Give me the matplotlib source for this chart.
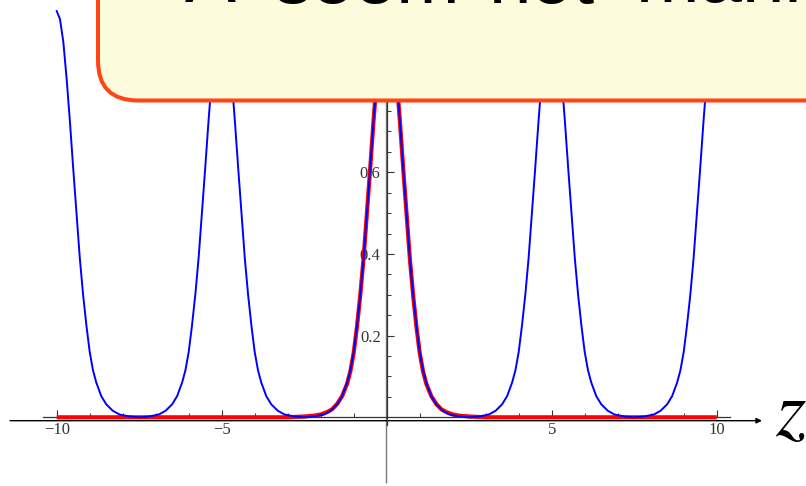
import matplotlib
matplotlib.use("Agg")
import matplotlib.pyplot as plt
from matplotlib.patches import FancyBboxPatch
from matplotlib.transforms import IdentityTransform
from matplotlib.ticker import FixedLocator, FixedFormatter

# ---------------- data ----------------
# blue curve: periodic density, peaks at -10, -5, 0, 5, 10
blue_z = [
    -10.0, -9.9, -9.8, -9.7, -9.6, -9.5, -9.4, -9.3, -9.2, -9.1, -9.0, -8.9, -8.8, -8.65, -8.5, -8.3, -8.1, -7.8, -7.5,
    -7.2, -6.9, -6.7, -6.5, -6.35, -6.2, -6.1, -6.0, -5.9, -5.8, -5.7, -5.6, -5.5, -5.4, -5.3, -5.2, -5.1, -5.0,
    -4.9, -4.8, -4.7, -4.6, -4.5, -4.4, -4.3, -4.2, -4.1, -4.0, -3.9, -3.8, -3.65, -3.5, -3.3, -3.1, -2.8, -2.5,
    -2.2, -1.9, -1.7, -1.5, -1.35, -1.2, -1.1, -1.0, -0.9, -0.8, -0.7, -0.6, -0.5, -0.4, -0.3, -0.2, -0.1, 0.0,
    0.1, 0.2, 0.3, 0.4, 0.5, 0.6, 0.7, 0.8, 0.9, 1.0, 1.1, 1.2, 1.35, 1.5, 1.7, 1.9, 2.2, 2.5,
    2.8, 3.1, 3.3, 3.5, 3.65, 3.8, 3.9, 4.0, 4.1, 4.2, 4.3, 4.4, 4.5, 4.6, 4.7, 4.8, 4.9, 5.0,
    5.1, 5.2, 5.3, 5.4, 5.5, 5.6, 5.7, 5.8, 5.9, 6.0, 6.1, 6.2, 6.35, 6.5, 6.7, 6.9, 7.2, 7.5,
    7.8, 8.1, 8.3, 8.5, 8.65, 8.8, 8.9, 9.0, 9.1, 9.2, 9.3, 9.4, 9.5, 9.6, 9.7, 9.8, 9.9, 10.0,
]
blue_p = [
    0.995, 0.975, 0.92, 0.83, 0.725, 0.61, 0.50, 0.39, 0.30, 0.225, 0.16, 0.115, 0.085, 0.052, 0.032, 0.016, 0.007, 0.002, 0.0,
    0.002, 0.007, 0.016, 0.032, 0.052, 0.085, 0.115, 0.16, 0.225, 0.30, 0.39, 0.50, 0.61, 0.725, 0.83, 0.92, 0.975, 1.0,
    0.975, 0.92, 0.83, 0.725, 0.61, 0.50, 0.39, 0.30, 0.225, 0.16, 0.115, 0.085, 0.052, 0.032, 0.016, 0.007, 0.002, 0.0,
    0.002, 0.007, 0.016, 0.032, 0.052, 0.085, 0.115, 0.16, 0.225, 0.30, 0.39, 0.50, 0.61, 0.725, 0.83, 0.92, 0.975, 1.0,
    0.975, 0.92, 0.83, 0.725, 0.61, 0.50, 0.39, 0.30, 0.225, 0.16, 0.115, 0.085, 0.052, 0.032, 0.016, 0.007, 0.002, 0.0,
    0.002, 0.007, 0.016, 0.032, 0.052, 0.085, 0.115, 0.16, 0.225, 0.30, 0.39, 0.50, 0.61, 0.725, 0.83, 0.92, 0.975, 1.0,
    0.975, 0.92, 0.83, 0.725, 0.61, 0.50, 0.39, 0.30, 0.225, 0.16, 0.115, 0.085, 0.052, 0.032, 0.016, 0.007, 0.002, 0.0,
    0.002, 0.007, 0.016, 0.032, 0.052, 0.085, 0.115, 0.16, 0.225, 0.30, 0.39, 0.50, 0.61, 0.725, 0.83, 0.92, 0.975, 1.0,
]

# red curve: single localized peak at 0
red_z = [-10.0, -3.0, -2.5, -2.2, -2.0, -1.8, -1.65, -1.5, -1.35, -1.2, -1.1, -1.0, -0.9, -0.8, -0.7, -0.6,
         -0.5, -0.4, -0.3, -0.2, -0.1, 0.0, 0.1, 0.2, 0.3, 0.4, 0.5, 0.6, 0.7, 0.8, 0.9, 1.0, 1.1, 1.2,
         1.35, 1.5, 1.65, 1.8, 2.0, 2.2, 2.5, 3.0, 10.0]
red_p = [0.0, 0.0, 0.002, 0.004, 0.007, 0.013, 0.02, 0.033, 0.052, 0.082, 0.113, 0.158, 0.222, 0.30, 0.39, 0.50,
         0.61, 0.725, 0.83, 0.92, 0.975, 1.0, 0.975, 0.92, 0.83, 0.725, 0.61, 0.50, 0.39, 0.30, 0.222, 0.158, 0.113, 0.082,
         0.052, 0.033, 0.02, 0.013, 0.007, 0.004, 0.002, 0.0, 0.0]

x_major = [-10, -5, 5, 10]
x_major_labels = ["\u221210", "\u22125", "5", "10"]
x_minor = [-9, -8, -7, -6, -4, -3, -2, -1, 1, 2, 3, 4, 6, 7, 8, 9]
y_major = [0.2, 0.4, 0.6, 0.8, 1.0]
y_major_labels = ["0.2", "0.4", "0.6", "", ""]   # 0.8 and 1.0 lie under the callout box
y_minor = [0.05, 0.1, 0.15, 0.25, 0.3, 0.35, 0.45, 0.5, 0.55, 0.65, 0.7, 0.75, 0.85, 0.9, 0.95]

# words of the (mostly cut-off) callout line, with their left pixel positions
box_words = ["A", "seem", "not", "manifestly normalizable"]
box_word_px = [185, 274, 489, 636]
axis_label = "z"

# ---------------- figure ----------------
W, H = 806, 486
fig = plt.figure(figsize=(W / 100, H / 100), dpi=100)
ax = fig.add_axes([0, 0, 1, 1])
ax.set_facecolor("white")

# pixel mapping of the reference: x=0 at 386.7 px, 33 px/unit ; y=0 at 417.3 px from top, 408.3 px/unit
X0 = (0 - 386.7) / 33.0
X1 = (W - 386.7) / 33.0
Y0 = (417.3 - H) / 408.3
Y1 = 417.3 / 408.3
ax.set_xlim(X0, X1)
ax.set_ylim(Y0, Y1)

axcol = "#333333"
for s in ("top", "right"):
    ax.spines[s].set_visible(False)
ax.spines["bottom"].set_position(("data", 0))
ax.spines["left"].set_position(("data", 0))
ax.spines["bottom"].set_bounds(-10.42, 10.40)
ax.spines["left"].set_bounds(-0.02, 1.03)
for s in ("bottom", "left"):
    ax.spines[s].set_color(axcol)
    ax.spines[s].set_linewidth(0.9)

ax.xaxis.set_major_locator(FixedLocator(x_major))
ax.xaxis.set_major_formatter(FixedFormatter(x_major_labels))
ax.xaxis.set_minor_locator(FixedLocator(x_minor))
ax.yaxis.set_major_locator(FixedLocator(y_major))
ax.yaxis.set_major_formatter(FixedFormatter(y_major_labels))
ax.yaxis.set_minor_locator(FixedLocator(y_minor))

tick_font = "Liberation Serif"
ax.tick_params(axis="both", which="major", direction="in", length=5.0, width=0.8,
               color=axcol, labelcolor=axcol, labelsize=12)
ax.tick_params(axis="both", which="minor", direction="in", length=3.0, width=0.7, color=axcol)
ax.tick_params(axis="x", which="major", pad=3.5)
ax.tick_params(axis="y", which="major", pad=4.3)
for lab in ax.get_xticklabels() + ax.get_yticklabels():
    lab.set_fontfamily(tick_font)

# hand-drawn arrow axis and long vertical line
yarr = (417.3 - 420.7) / 408.3
ax.annotate("", xy=((762 - 386.7) / 33.0, yarr), xytext=((10 - 386.7) / 33.0, yarr),
            arrowprops=dict(arrowstyle="-|>", color="black", lw=1.0, mutation_scale=8,
                            shrinkA=0, shrinkB=0), zorder=2)
ax.vlines((386.0 - 386.7) / 33.0, (417.3 - 483) / 408.3, Y1 + 0.1, color="#777777", lw=1.0, zorder=1)

# curves
ax.plot(red_z, red_p, color="#ff0000", lw=3.0, zorder=3, solid_capstyle="butt")
ax.plot(blue_z, blue_p, color="#0000ff", lw=1.4, zorder=4)

# axis label z (Times-like italic)
ax.text((775 - 386.7) / 33.0, (417.3 - 436) / 408.3, "$" + axis_label + "$", fontsize=56,
        math_fontfamily="stix", color="black",
        ha="left", va="baseline", zorder=5, clip_on=False)

# callout box on top
box = FancyBboxPatch((98, H - 100.5), 900, 400, boxstyle="round,pad=0,rounding_size=40",
                     facecolor="#fcfbdc", edgecolor="#ff4515", linewidth=2.9,
                     transform=IdentityTransform(), zorder=10)
fig.add_artist(box)
for word, px in zip(box_words, box_word_px):
    fig.text(px / W, 1 - 2.5 / H, word, fontsize=55, fontfamily="Liberation Sans",
             color="black", ha="left", va="baseline", zorder=11)

fig.savefig("out.png", dpi=100)
